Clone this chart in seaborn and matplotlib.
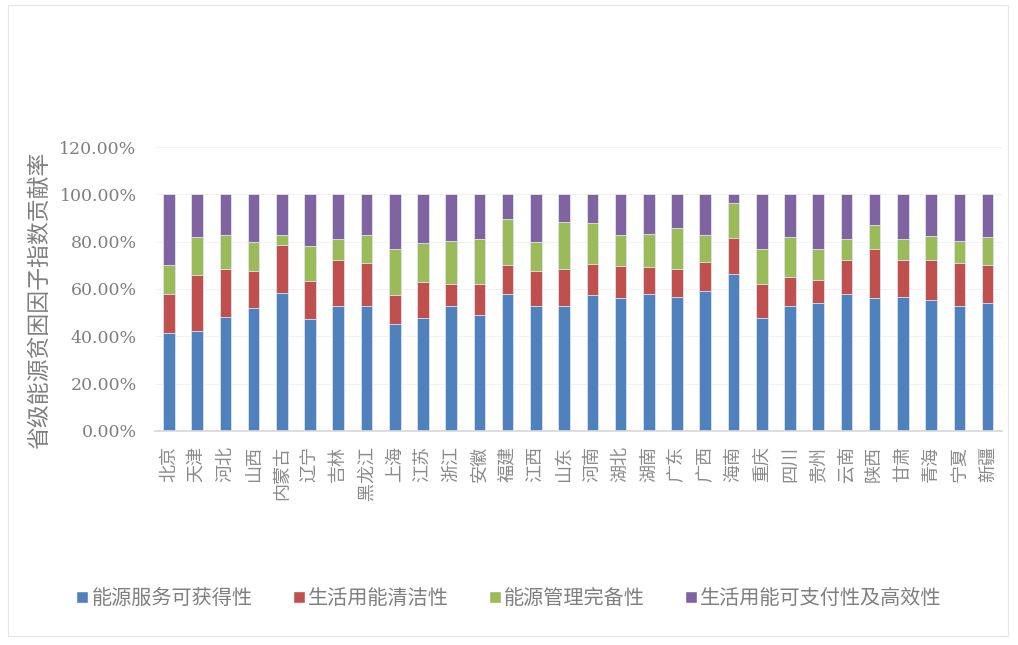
import numpy as np
import pandas as pd
import matplotlib
matplotlib.use("Agg")
import matplotlib.pyplot as plt
import seaborn as sns
from matplotlib.patches import Patch, Rectangle
from matplotlib.ticker import PercentFormatter

# -------------------------------
# ДАНІ (частки, %)
# -------------------------------
provinces = ["北京", "天津", "河北", "山西", "内蒙古", "辽宁", "吉林", "黑龙江", "上海", "江苏",
             "浙江", "安徽", "福建", "江西", "山东", "河南", "湖北", "湖南", "广东", "广西",
             "海南", "重庆", "四川", "贵州", "云南", "陕西", "甘肃", "青海", "宁夏", "新疆"]

availability = [41.2, 42.3, 48.2, 52.0, 58.4, 47.1, 53.0, 53.0, 45.3, 47.8,
                53.0, 48.8, 58.0, 53.0, 52.6, 57.4, 56.0, 58.0, 56.4, 59.0,
                66.3, 47.8, 52.6, 54.0, 58.0, 56.0, 56.4, 55.4, 52.6, 54.0]
cleanliness = [16.8, 23.4, 20.1, 15.7, 20.0, 16.2, 19.2, 18.1, 12.1, 15.1,
               8.9, 13.1, 12.1, 14.7, 15.7, 13.3, 13.7, 11.1, 11.9, 12.6,
               15.1, 14.1, 12.3, 9.9, 14.2, 20.9, 15.8, 16.8, 18.5, 16.1]
management = [12.1, 16.1, 14.5, 12.3, 4.4, 14.7, 8.8, 11.7, 19.5, 16.5,
              18.5, 19.1, 19.6, 12.3, 20.0, 17.0, 13.1, 14.3, 17.5, 11.2,
              15.1, 15.0, 16.9, 13.0, 8.8, 10.3, 8.8, 10.2, 9.3, 11.7]
affordability = [29.9, 18.2, 17.2, 20.0, 17.2, 22.0, 19.0, 17.2, 23.1, 20.6,
                 19.6, 19.0, 10.3, 20.0, 11.7, 12.3, 17.2, 16.6, 14.2, 17.2,
                 3.5, 23.1, 18.2, 23.1, 19.0, 12.8, 19.0, 17.6, 19.6, 18.2]

series_names = ["能源服务可获得性", "生活用能清洁性", "能源管理完备性", "生活用能可支付性及高效性"]
colors = ["#4F81BD", "#C0504D", "#9BBB59", "#8064A2"]

# -------------------------------
# ПОБУДОВА
# -------------------------------
sns.set_theme(style="white")
plt.rcParams["font.family"] = ["Noto Sans CJK SC", "DejaVu Sans"]

df = pd.DataFrame({"省份": provinces})
segments = [availability, cleanliness, management, affordability]
cum = np.cumsum(np.array(segments), axis=0)

fig = plt.figure(figsize=(10.18, 6.45), dpi=100)
ax = fig.add_axes([0.152, 0.332, 0.832, 0.44])

# накладаємо кумулятивні суми від найвищої до найнижчої
for i in range(3, -1, -1):
    df["值"] = cum[i]
    sns.barplot(data=df, x="省份", y="值", color=colors[i], width=0.41,
                edgecolor="#dfe6f0", linewidth=0.6, saturation=1, ax=ax)

ax.set_ylim(0, 120)
ax.set_yticks(np.arange(0, 121, 20))
ax.yaxis.set_major_formatter(PercentFormatter(decimals=2))
ax.set_xlim(-0.5, len(provinces) - 0.5)
ax.grid(axis="y", color="#f2f2f2", linewidth=0.8)
ax.set_axisbelow(True)
for s in ["top", "right", "left"]:
    ax.spines[s].set_visible(False)
ax.spines["bottom"].set_color("#d9d9d9")
ax.tick_params(axis="both", length=0)
ax.tick_params(axis="y", pad=13)

ax.set_xlabel("")
ax.set_ylabel("省级能源贫困因子指数贡献率", fontsize=16.5, color="#7f7f7f")
ax.yaxis.set_label_coords(-0.122, 0.46)
for lab in ax.get_yticklabels():
    lab.set_family(["DejaVu Serif"])
    lab.set_fontsize(12.5)
    lab.set_color("#7f7f7f")
ax.tick_params(axis="x", labelrotation=90, labelsize=13, labelcolor="#8a8a8a", pad=11)

handles = [Patch(facecolor=c) for c in colors]
fig.legend(handles, series_names, loc="center", bbox_to_anchor=(0.5, 0.072), ncol=4,
           frameon=False, fontsize=14.5, labelcolor="#7f7f7f", handlelength=0.6,
           handleheight=0.6, handletextpad=0.15, columnspacing=2.0)

fig.patches.append(Rectangle((0.008, 0.014), 0.982, 0.978, transform=fig.transFigure,
                             fill=False, edgecolor="#e6e6e6", linewidth=0.8))

fig.savefig("out.png", dpi=100)
